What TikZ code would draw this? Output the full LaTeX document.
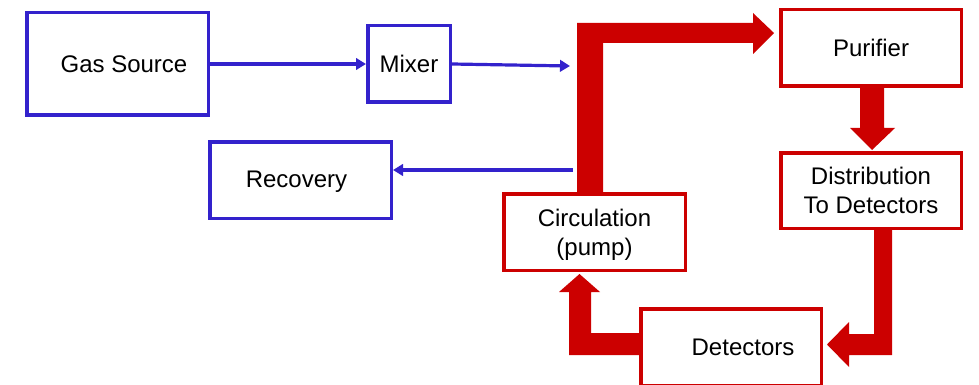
\documentclass[tikz,border=0pt]{standalone}
\usepackage{fontspec}
\setmainfont{Liberation Sans}
\usetikzlibrary{arrows.meta,calc}
\definecolor{bluec}{RGB}{51,34,204}
\definecolor{redc}{RGB}{204,0,0}
\begin{document}
\begin{tikzpicture}[x=1pt,y=-1pt,
  font=\fontsize{24}{29}\selectfont,
  bbox/.style={draw=bluec, fill=white, line width=3.5pt, inner sep=0pt, align=center},
  rbox/.style={draw=redc, fill=white, line width=3.5pt, inner sep=0pt, align=center},
  barrow/.style={draw=bluec, line width=3.2pt, -{Triangle[length=10pt,width=11.5pt]}},
  fat/.style={fill=redc}]
\useasboundingbox (0,0) rectangle (979,385);
\clip (0,0) rectangle (979,385);
% fat red arrows (drawn first, boxes cover their ends)
\fill[fat] (577,194) -- (577,23) -- (753,23) -- (753,13) -- (774,33) -- (753,54) -- (753,43) -- (603,43) -- (603,194) -- cycle;
\fill[fat] (860,86) -- (860,128) -- (850,128) -- (872,150) -- (895,128) -- (884,128) -- (884,86) -- cycle;
\fill[fat] (874,228) -- (874,334) -- (849,334) -- (849,322) -- (827,344.5) -- (849,367) -- (849,355) -- (892,355) -- (892,228) -- cycle;
\fill[fat] (641,333) -- (591,333) -- (591,292) -- (600,292) -- (579.5,274) -- (559,292) -- (569,292) -- (569,355) -- (641,355) -- cycle;
% boxes
\node[bbox, minimum width=181.5pt, minimum height=102.5pt,
      label={[xshift=6.5pt]center:Gas Source}] (gas) at (117.5,64) {};
\node[bbox, minimum width=82.5pt, minimum height=76.5pt] (mixer) at (409,64) {Mixer};
\node[bbox, minimum width=181.5pt, minimum height=76.5pt,
      label={[xshift=-4pt,yshift=-2pt]center:Recovery}] (recovery) at (300.5,180) {};
\node[rbox, minimum width=180.5pt, minimum height=76.5pt] (purifier) at (871,48) {Purifier};
\node[rbox, minimum width=180.5pt, minimum height=75.5pt] (dist) at (871,190.5) {Distribution\\To Detectors};
\node[rbox, minimum width=181.5pt, minimum height=76.5pt,
      label={[align=center,yshift=-2.5pt]center:Circulation\\(pump)}] (circ) at (594.5,232) {};
\node[rbox, minimum width=180.5pt, minimum height=76.5pt,
      label={[xshift=12pt]center:Detectors}] (det) at (731,347) {};
% blue connectors
\coordinate (mixend) at (570,66);
\coordinate (recstart) at (573,170);
\draw[barrow] (gas.east) -- (mixer.west);
\draw[barrow] (mixer.east) -- (mixend);
\draw[barrow] (recstart) -- (recstart -| recovery.east);
\end{tikzpicture}
\end{document}
